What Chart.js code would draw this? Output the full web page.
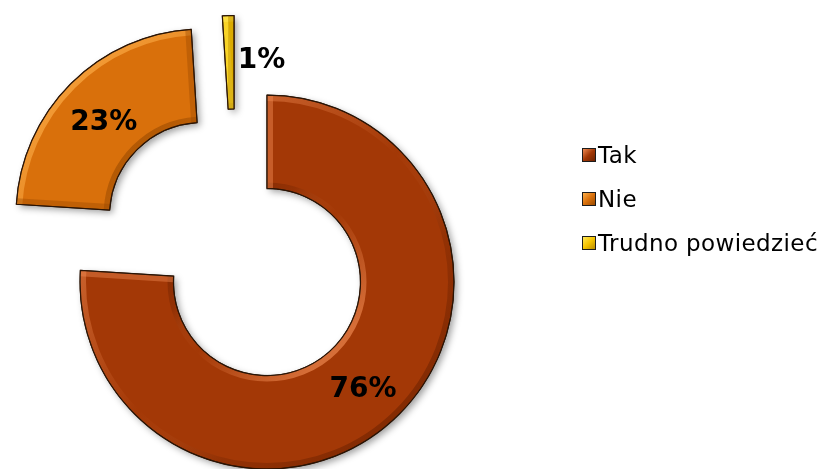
<!DOCTYPE html>
<html lang="pl">
<head>
<meta charset="utf-8">
<title>Tak / Nie / Trudno powiedzieć</title>
<script src="https://cdn.jsdelivr.net/npm/chart.js@4.4.1/dist/chart.umd.min.js"></script>
<style>
  html, body { margin: 0; padding: 0; background: #ffffff; }
  #wrap { position: relative; width: 829px; height: 469px; overflow: hidden; }
  #chart { position: absolute; left: 0; top: 0; }
  #legend {
    position: absolute; left: 582px; top: 133px;
    font-family: "DejaVu Sans", Verdana, sans-serif; font-size: 23px; letter-spacing: 0.4px; color: #000;
  }
  .row { display: flex; align-items: center; height: 44px; white-space: nowrap; }
  .sw { width: 12px; height: 12px; border: 1px solid #1c1c1c; margin-right: 2px; flex: none; }
</style>
</head>
<body>
<div id="wrap">
  <canvas id="chart" width="829" height="469"></canvas>
  <div id="legend"></div>
</div>
<script>
// Survey answers (percent)
const categories = ['Tak', 'Nie', 'Trudno powiedzieć'];
const values = [76, 23, 1];

// Slice fills plus the lighter / darker tones used for the bevelled edges
const fillColors  = ['#A33806', '#D9700B', '#F5C400'];
const lightColors = ['#F08A52', '#FFB04A', '#FFE85A'];
const darkColors  = ['#6E2200', '#9A4A00', '#B88A00'];

const EXPLODE = 46;      // distance every slice is pulled out from the centre
const BEVEL = 6;         // width of the bevel band along each edge
const LIGHT = { x: -Math.SQRT1_2, y: -Math.SQRT1_2 }; // light from the upper left
const LABEL_SIZE = 28;

function hexToRgb(h) {
  const n = parseInt(h.slice(1), 16);
  return [(n >> 16) & 255, (n >> 8) & 255, n & 255];
}
function rgba(h, a) {
  const [r, g, b] = hexToRgb(h);
  return `rgba(${r},${g},${b},${Math.max(0, Math.min(1, a)).toFixed(3)})`;
}
function tone(i, k) {
  return k >= 0 ? rgba(lightColors[i], 0.66 * k) : rgba(darkColors[i], 0.6 * -k);
}

function ringPath(ctx, a) {
  ctx.beginPath();
  ctx.arc(a.x, a.y, a.outerRadius, a.startAngle, a.endAngle);
  ctx.arc(a.x, a.y, a.innerRadius, a.endAngle, a.startAngle, true);
  ctx.closePath();
}

function edgeGradient(ctx, a, r, i, inward) {
  // brightness follows the dot product of the edge normal with the light direction
  const sgn = inward ? -1 : 1;
  const g = ctx.createLinearGradient(
    a.x + LIGHT.x * r, a.y + LIGHT.y * r,
    a.x - LIGHT.x * r, a.y - LIGHT.y * r);
  [0, 0.25, 0.5, 0.75, 1].forEach(t => g.addColorStop(t, tone(i, sgn * (1 - 2 * t))));
  return g;
}

// Pull each slice outward along its bisector
const explodePlugin = {
  id: 'explode',
  afterDatasetsUpdate(chart) {
    chart.getDatasetMeta(0).data.forEach(arc => {
      const mid = (arc.startAngle + arc.endAngle) / 2;
      arc.x += Math.cos(mid) * EXPLODE;
      arc.y += Math.sin(mid) * EXPLODE;
    });
  }
};

// Soft drop shadow under the slices, bevel highlights on top of them
const bevelPlugin = {
  id: 'bevel',
  beforeDatasetsDraw(chart) {
    const ctx = chart.ctx;
    ctx.save();
    ctx.shadowColor = 'rgba(0,0,0,0.38)';
    ctx.shadowBlur = 7;
    ctx.shadowOffsetX = 3;
    ctx.shadowOffsetY = 3;
    ctx.fillStyle = '#ffffff';
    chart.getDatasetMeta(0).data.forEach(a => { ringPath(ctx, a); ctx.fill(); });
    ctx.restore();
  },
  afterDatasetsDraw(chart) {
    const ctx = chart.ctx;
    chart.getDatasetMeta(0).data.forEach((a, i) => {
      const { x, y, startAngle: s, endAngle: e, innerRadius: r, outerRadius: R } = a;
      ctx.save();
      ringPath(ctx, a);
      ctx.clip();
      ctx.lineWidth = BEVEL * 2;
      ctx.lineCap = 'butt';
      // outer rim
      ctx.beginPath();
      ctx.arc(x, y, R, s, e);
      ctx.strokeStyle = edgeGradient(ctx, a, R, i, false);
      ctx.stroke();
      // inner rim
      ctx.beginPath();
      ctx.arc(x, y, r, s, e);
      ctx.strokeStyle = edgeGradient(ctx, a, r, i, true);
      ctx.stroke();
      // straight side at the start angle
      const nS = { x: Math.sin(s), y: -Math.cos(s) };
      ctx.beginPath();
      ctx.moveTo(x + Math.cos(s) * r, y + Math.sin(s) * r);
      ctx.lineTo(x + Math.cos(s) * R, y + Math.sin(s) * R);
      ctx.strokeStyle = tone(i, nS.x * LIGHT.x + nS.y * LIGHT.y);
      ctx.stroke();
      // straight side at the end angle
      const nE = { x: -Math.sin(e), y: Math.cos(e) };
      ctx.beginPath();
      ctx.moveTo(x + Math.cos(e) * r, y + Math.sin(e) * r);
      ctx.lineTo(x + Math.cos(e) * R, y + Math.sin(e) * R);
      ctx.strokeStyle = tone(i, nE.x * LIGHT.x + nE.y * LIGHT.y);
      ctx.stroke();
      ctx.restore();
      // crisp outline
      ctx.save();
      ringPath(ctx, a);
      ctx.lineWidth = 1.2;
      ctx.strokeStyle = '#2a1405';
      ctx.lineJoin = 'miter';
      ctx.stroke();
      ctx.restore();
    });
  }
};

// Percentage labels: centred in the ring, or beside a very thin slice
const labelPlugin = {
  id: 'pctLabels',
  afterDraw(chart) {
    const ctx = chart.ctx;
    const ds = chart.data.datasets[0];
    const capMid = 0.365 * LABEL_SIZE;
    ctx.save();
    ctx.font = `bold ${LABEL_SIZE}px "DejaVu Sans", Verdana, sans-serif`;
    ctx.fillStyle = '#000000';
    ctx.textBaseline = 'alphabetic';
    chart.getDatasetMeta(0).data.forEach((a, i) => {
      const mid = (a.startAngle + a.endAngle) / 2;
      const rm = (a.innerRadius + a.outerRadius) / 2;
      const px = a.x + Math.cos(mid) * rm;
      const py = a.y + Math.sin(mid) * rm;
      const txt = ds.data[i] + '%';
      if (ds.data[i] < 5) {
        ctx.textAlign = 'left';
        ctx.fillText(txt, px + 8, py - 5 + capMid);
      } else {
        ctx.textAlign = 'center';
        ctx.fillText(txt, px, py + 3 + capMid);
      }
    });
    ctx.restore();
  }
};

new Chart(document.getElementById('chart'), {
  type: 'doughnut',
  data: {
    labels: categories,
    datasets: [{
      data: values,
      backgroundColor: fillColors,
      borderColor: '#2a1405',
      borderWidth: 1
    }]
  },
  options: {
    responsive: false,
    animation: false,
    events: [],
    radius: 187,
    cutout: '50%',
    layout: { padding: { left: 0, right: 358, top: 28, bottom: 0 } },
    plugins: { legend: { display: false }, tooltip: { enabled: false } }
  },
  plugins: [explodePlugin, bevelPlugin, labelPlugin]
});

// Legend
const legend = document.getElementById('legend');
categories.forEach((name, i) => {
  const row = document.createElement('div');
  row.className = 'row';
  const sw = document.createElement('span');
  sw.className = 'sw';
  sw.style.background = `linear-gradient(135deg, ${lightColors[i]} 0%, ${fillColors[i]} 50%, ${darkColors[i]} 100%)`;
  const label = document.createElement('span');
  label.textContent = name;
  row.appendChild(sw);
  row.appendChild(label);
  legend.appendChild(row);
});
</script>
</body>
</html>
